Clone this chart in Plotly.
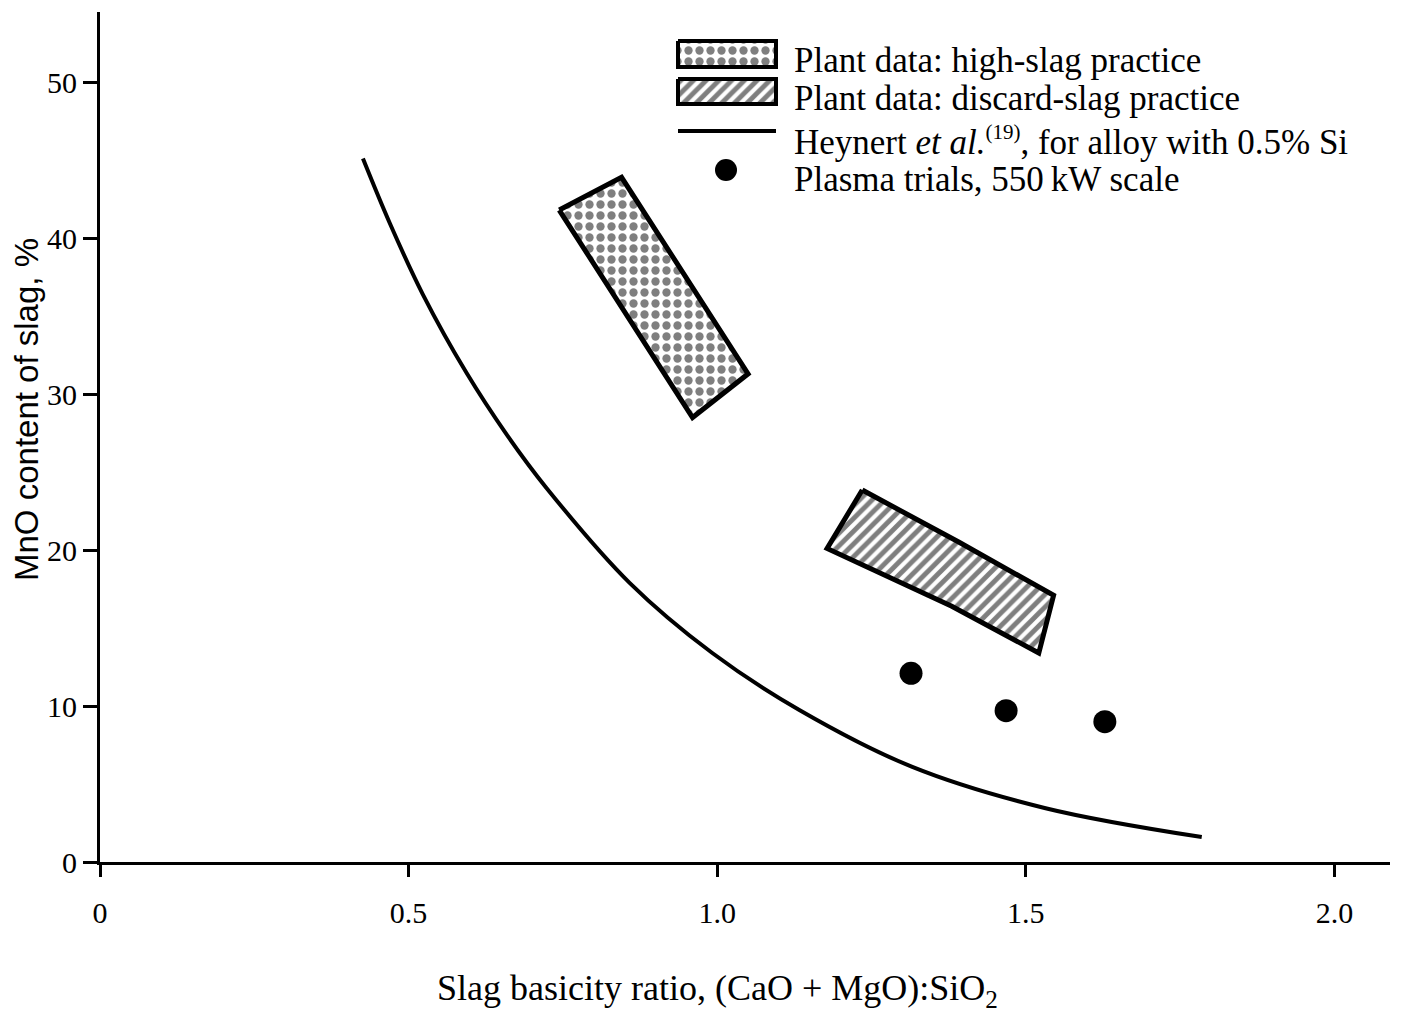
import plotly.graph_objects as go

# ---- data ----
heynert_basicity = [0.426, 0.469, 0.523, 0.594, 0.659, 0.723, 0.858, 0.992,
                    1.133, 1.316, 1.532, 1.785]
heynert_mno = [45.1, 41.0, 36.4, 31.35, 27.4, 24.0, 17.9, 13.4,
               9.75, 6.1, 3.45, 1.6]

high_slag_basicity = [0.744, 0.845, 1.050, 0.960, 0.744]
high_slag_mno = [41.8, 43.9, 31.3, 28.5, 41.8]

discard_slag_basicity = [1.235, 1.392, 1.545, 1.521, 1.380, 1.178, 1.235]
discard_slag_mno = [23.85, 20.5, 17.1, 13.4, 16.4, 20.1, 23.85]

plasma_basicity = [1.314, 1.468, 1.628]
plasma_mno = [12.1, 9.7, 9.0]

x_tick_vals = [0, 0.5, 1.0, 1.5, 2.0]
x_tick_text = ["0", "0.5", "1.0", "1.5", "2.0"]
y_tick_vals = [0, 10, 20, 30, 40, 50]
y_tick_text = ["0", "10", "20", "30", "40", "50"]

legend_labels = [
    "Plant data: high-slag practice",
    "Plant data: discard-slag practice",
    "Heynert <i>et al.</i><sup><span style='font-size:21px'>(19)</span></sup>, for alloy with 0.5% Si",
    "Plasma trials, 550\u2009kW scale",
]

SERIF = "Liberation Serif, Times New Roman, serif"
SANS = "Liberation Sans, Arial, sans-serif"

dots_pattern = dict(shape=".", fgcolor="black", bgcolor="white", size=11, solidity=0.45)
hatch_pattern = dict(shape="/", fgcolor="black", bgcolor="white", size=9, solidity=0.55)

# page geometry (the html body adds an 8px offset)
OFF = 8
PL, PR, PT, PB = 100, 1390, 12, 862          # plot area in screenshot pixels
W, H = 1407 - OFF, 1016 - OFF
ML, MT = PL - OFF, PT - OFF
MR, MB = W - (PR - OFF), H - (PB - OFF)

fig = go.Figure()

fig.add_trace(go.Scatter(
    x=heynert_basicity, y=heynert_mno, mode="lines",
    line=dict(color="black", width=4, shape="spline", smoothing=1.0), showlegend=False))

fig.add_trace(go.Scatter(
    x=high_slag_basicity, y=high_slag_mno, mode="lines", fill="toself",
    fillcolor="white", fillpattern=dots_pattern,
    line=dict(color="black", width=5), showlegend=False))

fig.add_trace(go.Scatter(
    x=discard_slag_basicity, y=discard_slag_mno, mode="lines", fill="toself",
    fillcolor="white", fillpattern=hatch_pattern,
    line=dict(color="black", width=5), showlegend=False))

fig.add_trace(go.Scatter(
    x=plasma_basicity, y=plasma_mno, mode="markers",
    marker=dict(color="black", size=23), showlegend=False))

# ---- legend drawn on an overlay axis (screenshot pixel units) ----
lx0, lx1 = 678, 776
fig.add_trace(go.Scatter(
    x=[lx0, lx1, lx1, lx0, lx0], y=[41, 41, 67, 67, 41], mode="lines",
    fill="toself", fillcolor="white", fillpattern=dots_pattern,
    line=dict(color="black", width=4), xaxis="x2", yaxis="y2", showlegend=False))
fig.add_trace(go.Scatter(
    x=[lx0, lx1, lx1, lx0, lx0], y=[79, 79, 104, 104, 79], mode="lines",
    fill="toself", fillcolor="white", fillpattern=hatch_pattern,
    line=dict(color="black", width=4), xaxis="x2", yaxis="y2", showlegend=False))
fig.add_trace(go.Scatter(
    x=[lx0, lx1], y=[131, 131], mode="lines",
    line=dict(color="black", width=4), xaxis="x2", yaxis="y2", showlegend=False))
fig.add_trace(go.Scatter(
    x=[726], y=[170], mode="markers", marker=dict(color="black", size=22),
    xaxis="x2", yaxis="y2", showlegend=False))

for label, ly in zip(legend_labels, [60, 98, 141, 179]):
    fig.add_annotation(x=792, y=ly, xref="x2", yref="y2", text=label,
                       showarrow=False, xanchor="left", yanchor="middle",
                       font=dict(family=SERIF, size=35, color="black"))

def to_paper(px, py):
    return (px - PL) / (PR - PL), 1 - (py - PT) / (PB - PT)

tx, ty = to_paper(717, 990)
fig.add_annotation(x=tx, y=ty, xref="paper", yref="paper",
                   text="Slag basicity ratio, (CaO + MgO):SiO<sub>2</sub>",
                   showarrow=False, xanchor="center", yanchor="middle",
                   font=dict(family=SERIF, size=36, color="black"))
tx, ty = to_paper(26, 410)
fig.add_annotation(x=tx, y=ty, xref="paper", yref="paper", text="MnO content of slag, %",
                   textangle=-90, showarrow=False, xanchor="center", yanchor="middle",
                   font=dict(family=SANS, size=33, color="black"))

fig.update_layout(
    width=W, height=H,
    margin=dict(l=ML, r=MR, t=MT, b=MB, autoexpand=False),
    paper_bgcolor="white", plot_bgcolor="white",
    xaxis=dict(range=[0, 2.09], tickvals=x_tick_vals, ticktext=x_tick_text,
               showgrid=False, zeroline=False, showline=True, linecolor="black",
               linewidth=3, ticks="outside", ticklen=12, tickwidth=3, tickcolor="black",
               ticklabelstandoff=10, automargin=False,
               tickfont=dict(family=SERIF, size=30, color="black")),
    yaxis=dict(range=[0, 54.5], tickvals=y_tick_vals, ticktext=y_tick_text,
               showgrid=False, zeroline=False, showline=True, linecolor="black",
               linewidth=3, ticks="outside", ticklen=14, tickwidth=3, tickcolor="black",
               automargin=False,
               tickfont=dict(family=SERIF, size=30, color="black")),
    xaxis2=dict(overlaying="x", range=[PL, PR], visible=False, fixedrange=True),
    yaxis2=dict(overlaying="y", range=[PB, PT], visible=False, fixedrange=True),
    showlegend=False,
)

fig.write_html("out.html")
